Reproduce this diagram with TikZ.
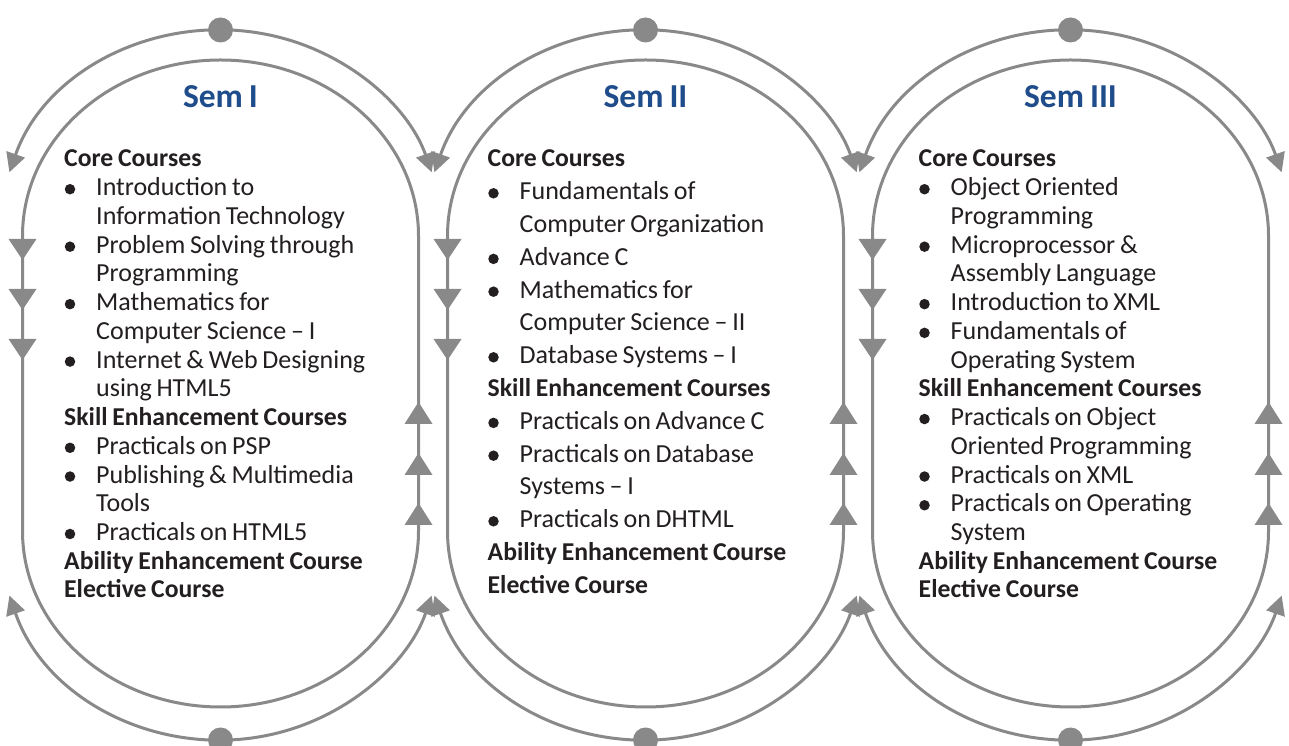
\documentclass[tikz,border=0pt]{standalone}
\usepackage{fontspec}
\setmainfont[WordSpace=0.8]{Carlito}
\usetikzlibrary{arrows.meta}
\definecolor{lg}{RGB}{137,137,137}
\definecolor{txt}{RGB}{35,31,32}
\definecolor{ttl}{RGB}{31,76,138}
\tikzset{
  lineH/.style={anchor=base west, inner sep=0pt, font=\bfseries\fontsize{25.7}{28}\selectfont, text=txt},
  lineB/.style={anchor=base west, inner sep=0pt, xshift=32pt, font=\fontsize{26}{28}\selectfont, text=txt},
  lineC/.style={lineB},
  bul/.style={circle, fill=txt, inner sep=0pt, minimum size=10.5pt},
  ring/.style={draw=lg, line width=3pt},
  arcarrow/.style={draw=lg, line width=3pt, arrows={Triangle[length=19pt,width=19pt]-Triangle[length=19pt,width=19pt]}},
  dot/.style={circle, fill=lg, inner sep=0pt, minimum size=25pt},
  title/.style={anchor=base, inner sep=0pt, font=\bfseries\fontsize{33.5}{36}\selectfont, text=ttl},
}
\begin{document}
\begin{tikzpicture}[x=1pt,y=1pt]
\useasboundingbox (0,0) rectangle (1289,746);
\fill[white] (0,0) rectangle (1289,746);
\foreach \cx [count=\n] in {220.5,645.5,1070.5}{
  % inner stadium
  \draw[ring] ({\cx-198},510) arc[start angle=180, end angle=0, x radius=198, y radius=176]
     -- ({\cx+198},215) arc[start angle=0, end angle=-180, x radius=198, y radius=176] -- cycle;
  % down triangles on left side
  \foreach \yb in {507,457,407}{
    \fill[lg] ({\cx-198-14},\yb) -- ({\cx-198+14},\yb) -- ({\cx-198},{\yb-21}) -- cycle;
  }
  % up triangles on right side
  \foreach \yb in {322,271,221}{
    \fill[lg] ({\cx+198-14},\yb) -- ({\cx+198+14},\yb) -- ({\cx+198},{\yb+22}) -- cycle;
  }
  % outer arcs
  \draw[arcarrow] ({\cx-211.1},573.7) arc[start angle=162, end angle=18, x radius=222, y radius=206];
  \draw[arcarrow] ({\cx-211.1},150.4) arc[start angle=198, end angle=342, x radius=222, y radius=209];
  \node[dot] (top\n) at (\cx,716) {};
  \node[dot] (bot\n) at (\cx,6) {};
}
\node[title] (t1) at (220.5,638) {Sem I};
\node[title] (t2) at (645.5,638) {Sem II};
\node[title] (t3) at (1070.5,638) {Sem III};
% Sem I
\def\xo{64}\def\dy{28.73}
\foreach \k/\ty/\tx in {0/H/Core Courses,1/B/Introduction to,2/C/Information Technology,3/B/Problem Solving through,4/C/Programming,5/B/Mathematics for,6/C/Computer Science – I,7/B/Internet \& Web Designing,8/C/using HTML5,9/H/Skill Enhancement Courses,10/B/Practicals on PSP,11/B/Publishing \& Multimedia,12/C/Tools,13/B/Practicals on HTML5,14/H/Ability Enhancement Course,15/H/Elective Course}{
  \node[line\ty] (sa-\k) at (\xo,{579-\k*\dy}) {\tx};
  \if\ty B \node[bul] (sab-\k) at ({\xo+6},{579-\k*\dy+6.5}) {};\fi
}
% Sem II
\def\xo{487.5}\def\dy{32.8}
\foreach \k/\ty/\tx in {0/H/Core Courses,1/B/Fundamentals of,2/C/Computer Organization,3/B/Advance C,4/B/Mathematics for,5/C/Computer Science – II,6/B/Database Systems – I,7/H/Skill Enhancement Courses,8/B/Practicals on Advance C,9/B/Practicals on Database,10/C/Systems – I,11/B/Practicals on DHTML,12/H/Ability Enhancement Course,13/H/Elective Course}{
  \node[line\ty] (sb-\k) at (\xo,{579-\k*\dy}) {\tx};
  \if\ty B \node[bul] (sbb-\k) at ({\xo+6},{579-\k*\dy+6.5}) {};\fi
}
% Sem III
\def\xo{918.5}\def\dy{28.73}
\foreach \k/\ty/\tx in {0/H/Core Courses,1/B/Object Oriented,2/C/Programming,3/B/Microprocessor \&,4/C/Assembly Language,5/B/Introduction to XML,6/B/Fundamentals of,7/C/Operating System,8/H/Skill Enhancement Courses,9/B/Practicals on Object,10/C/Oriented Programming,11/B/Practicals on XML,12/B/Practicals on Operating,13/C/System,14/H/Ability Enhancement Course,15/H/Elective Course}{
  \node[line\ty] (sc-\k) at (\xo,{579-\k*\dy}) {\tx};
  \if\ty B \node[bul] (scb-\k) at ({\xo+6},{579-\k*\dy+6.5}) {};\fi
}
\end{tikzpicture}
\end{document}
